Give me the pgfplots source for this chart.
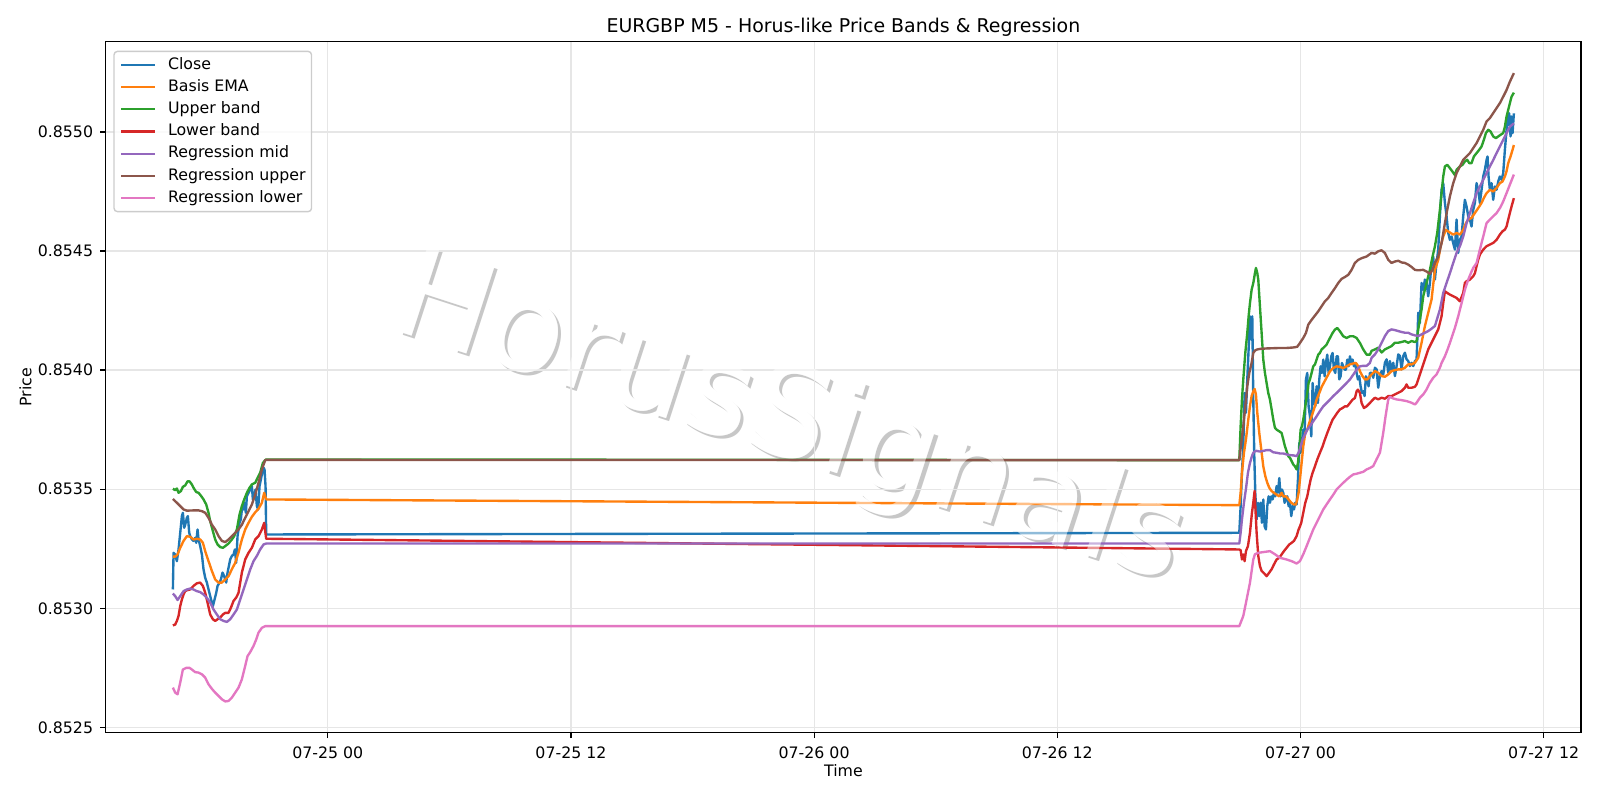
\documentclass[border=0pt]{standalone}
\usepackage{fontspec}
\setmainfont{DejaVu Sans}
\usepackage{pgfplots}
\pgfplotsset{compat=1.18}
\definecolor{c0}{HTML}{1F77B4}
\definecolor{c1}{HTML}{FF7F0E}
\definecolor{c2}{HTML}{2CA02C}
\definecolor{c3}{HTML}{D62728}
\definecolor{c4}{HTML}{9467BD}
\definecolor{c5}{HTML}{8C564B}
\definecolor{c6}{HTML}{E377C2}
\definecolor{gridc}{HTML}{E6E6E6}
\definecolor{legc}{HTML}{CCCCCC}
\begin{document}
\begin{tikzpicture}
\useasboundingbox (-76.2bp,-48.5bp) rectangle (1075.8bp,527.5bp);
\node[rotate=-18, anchor=base west, inner sep=0pt, font=\fontsize{91}{91}\selectfont, text=black, text opacity=0.22] at (205.8bp,289.0bp) {HorusSignals};
\node[rotate=-18, anchor=base west, inner sep=0pt, font=\fontsize{91}{91}\selectfont, text=white] at (203.5bp,291.2bp) {HorusSignals};
\begin{axis}[
 at={(0,0)}, anchor=south west, scale only axis,
 width=1062.1bp, height=497.5bp,
 xmin=-10.952, xmax=61.839, ymin=0.852478, ymax=0.855379,
 xtick={0,12,24,36,48,60},
 xticklabels={07-25 00,07-25 12,07-26 00,07-26 12,07-27 00,07-27 12},
 ytick={0.8525,0.853,0.8535,0.854,0.8545,0.855},
 yticklabels={0.8525,0.8530,0.8535,0.8540,0.8545,0.8550},
 scaled y ticks=false, scaled x ticks=false,
 tick align=outside, tick pos=left,
 major tick length=4bp,
 every tick/.style={black, line width=0.91bp},
 axis line style={black, line width=0.91bp},
 grid=major, major grid style={gridc, line width=0.91bp},
 tick label style={font=\fontsize{11.4}{13}\selectfont},
 xticklabel style={anchor=north, inner sep=0pt, yshift=-6.2bp},
 yticklabel style={anchor=east, inner sep=0pt, xshift=-5bp},
 every axis title shift=0pt,
 title={EURGBP M5 - Horus-like Price Bands \& Regression},
 title style={at={(axis description cs:0.5,1)}, anchor=base, yshift=6.3bp, inner sep=0pt, font=\fontsize{13.7}{16}\selectfont},
 xlabel={Time}, ylabel={Price},
 xlabel style={at={(axis description cs:0.5,0)}, anchor=base, yshift=-31.9bp, inner sep=0pt, font=\fontsize{11.4}{13}\selectfont},
 ylabel style={at={(axis description cs:-0.0544,0.5)}, anchor=center, inner sep=0pt, font=\fontsize{11.4}{13}\selectfont},
 legend cell align=left,
 legend image code/.code={\draw[#1, line width=1.71bp] (0bp,0bp) -- (24bp,0bp);},
 legend style={at={(axis description cs:0,1)}, anchor=north west, xshift=5.4bp, yshift=-6.5bp,
   draw=legc, line width=1bp, rounded corners=2.5bp, fill=white, fill opacity=0.8, text opacity=1,
   font=\fontsize{11.4}{13}\selectfont, inner xsep=4.3bp, inner ysep=4.2bp, row sep=5bp, column sep=8.9bp,
   nodes={inner sep=0pt, text height=8.5bp, text depth=2.5bp}},
 every axis plot/.append style={line width=1.71bp, line join=round},
]
\addplot[c0] coordinates {(-7.643,0.853079) (-7.610,0.853233) (-7.528,0.853226) (-7.446,0.853198) (-7.364,0.853247) (-7.281,0.853317) (-7.199,0.853387) (-7.150,0.853401) (-7.084,0.853338) (-7.035,0.853351) (-6.952,0.853380) (-6.903,0.853387) (-6.837,0.853317) (-6.788,0.853303) (-6.706,0.853289) (-6.624,0.853283) (-6.541,0.853296) (-6.492,0.853275) (-6.426,0.853331) (-6.377,0.853289) (-6.295,0.853261) (-6.212,0.853226) (-6.130,0.853163) (-6.048,0.853128) (-5.966,0.853108) (-5.884,0.853079) (-5.801,0.853051) (-5.719,0.853024) (-5.670,0.853009) (-5.587,0.853037) (-5.505,0.853065) (-5.439,0.853094) (-5.341,0.853108) (-5.275,0.853121) (-5.193,0.853150) (-5.111,0.853135) (-5.061,0.853121) (-5.012,0.853108) (-4.946,0.853150) (-4.864,0.853184) (-4.815,0.853205) (-4.732,0.853220) (-4.650,0.853226) (-4.584,0.853247) (-4.519,0.853191) (-4.453,0.853303) (-4.354,0.853359) (-4.288,0.853373) (-4.222,0.853429) (-4.157,0.853415) (-4.107,0.853443) (-4.042,0.853401) (-3.992,0.853471) (-3.910,0.853485) (-3.828,0.853499) (-3.746,0.853513) (-3.696,0.853457) (-3.631,0.853477) (-3.565,0.853499) (-3.499,0.853429) (-3.433,0.853415) (-3.368,0.853513) (-3.302,0.853541) (-3.236,0.853569) (-3.170,0.853590) (-3.121,0.853583) (-3.071,0.853513) (-3.038,0.853310)
(44.980,0.853317) (45.046,0.853429) (45.111,0.853569) (45.177,0.853680) (45.243,0.853904) (45.309,0.853821) (45.374,0.853961) (45.440,0.854087) (45.506,0.854226) (45.572,0.854128) (45.621,0.854226) (45.671,0.853876) (45.720,0.853639) (45.769,0.853485) (45.835,0.853373) (45.901,0.853443) (45.966,0.853387) (46.032,0.853443) (46.098,0.853359) (46.164,0.853457) (46.230,0.853344) (46.295,0.853331) (46.361,0.853429) (46.427,0.853470) (46.493,0.853443) (46.558,0.853470) (46.624,0.853457) (46.690,0.853485) (46.756,0.853470) (46.822,0.853513) (46.887,0.853485) (46.953,0.853547) (47.019,0.853470) (47.085,0.853499) (47.150,0.853485) (47.216,0.853443) (47.282,0.853457) (47.348,0.853470) (47.414,0.853429) (47.479,0.853443) (47.545,0.853387) (47.611,0.853429) (47.677,0.853415) (47.742,0.853443) (47.808,0.853436) (47.874,0.853540) (47.940,0.853695) (48.006,0.853653) (48.071,0.853702) (48.137,0.853750) (48.203,0.853736) (48.269,0.853961) (48.334,0.853988) (48.400,0.853848) (48.466,0.853806) (48.532,0.853722) (48.598,0.853946) (48.663,0.853876) (48.729,0.853848) (48.795,0.853932) (48.861,0.853862) (48.927,0.853961) (48.992,0.854016) (49.058,0.853988) (49.124,0.854044) (49.190,0.853974) (49.255,0.854030) (49.321,0.854065) (49.387,0.853988) (49.453,0.854016) (49.519,0.854058) (49.584,0.854072) (49.650,0.854002) (49.716,0.853988) (49.782,0.854058) (49.848,0.854058) (49.913,0.853961) (49.979,0.853974) (50.045,0.854030) (50.111,0.854016) (50.177,0.854002) (50.242,0.854002) (50.308,0.854044) (50.374,0.854016) (50.440,0.854058) (50.505,0.854030) (50.571,0.854044) (50.637,0.854016) (50.703,0.854030) (50.769,0.853988) (50.834,0.853961) (50.900,0.853974) (50.966,0.853932) (51.032,0.853904) (51.097,0.853911) (51.163,0.853891) (51.229,0.853974) (51.295,0.853961) (51.360,0.853932) (51.426,0.853988)
(51.508,0.853989) (51.590,0.853968) (51.673,0.854010) (51.755,0.854003) (51.837,0.853926) (51.919,0.853975) (52.002,0.853996) (52.084,0.853982) (52.166,0.854031) (52.248,0.854045) (52.331,0.853989) (52.413,0.854038) (52.495,0.853996) (52.577,0.854031) (52.659,0.853975) (52.742,0.854017) (52.824,0.854066) (52.906,0.854059) (52.988,0.854003) (53.071,0.854059) (53.153,0.854073) (53.235,0.854045) (53.317,0.854038) (53.399,0.854017) (53.482,0.854031) (53.564,0.854017) (53.646,0.854038) (53.728,0.854045) (53.778,0.854157) (53.811,0.854241)
(53.892,0.854198) (53.974,0.854366) (54.057,0.854337) (54.139,0.854380) (54.221,0.854366) (54.303,0.854310) (54.386,0.854366) (54.468,0.854450) (54.550,0.854477) (54.632,0.854380) (54.714,0.854450) (54.797,0.854506) (54.879,0.854646) (54.961,0.854757) (55.043,0.854785) (55.126,0.854702) (55.208,0.854646) (55.290,0.854576) (55.372,0.854547) (55.455,0.854561) (55.537,0.854533) (55.619,0.854506) (55.701,0.854632) (55.783,0.854492) (55.866,0.854547) (55.948,0.854561) (56.030,0.854646) (56.112,0.854715) (56.195,0.854687) (56.277,0.854646) (56.359,0.854632) (56.441,0.854603) (56.523,0.854673) (56.606,0.854702) (56.688,0.854785) (56.770,0.854757) (56.852,0.854702) (56.935,0.854757) (57.017,0.854813) (57.099,0.854841) (57.181,0.854882) (57.230,0.854897) (57.280,0.854813) (57.346,0.854757) (57.428,0.854785) (57.510,0.854715) (57.592,0.854771) (57.674,0.854757) (57.757,0.854792) (57.839,0.854813) (57.921,0.854799) (58.003,0.854827) (58.086,0.854925) (58.168,0.855009) (58.250,0.855065) (58.299,0.855078) (58.365,0.854981) (58.415,0.855065) (58.464,0.854995) (58.530,0.855078)};
\addlegendentry{Close}
\addplot[c1] coordinates {(-7.643,0.853217) (-7.528,0.853217) (-7.413,0.853226) (-7.281,0.853254) (-7.117,0.853283) (-6.952,0.853303) (-6.788,0.853300) (-6.624,0.853289) (-6.459,0.853292) (-6.295,0.853289) (-6.163,0.853275) (-6.048,0.853240) (-5.884,0.853198) (-5.719,0.853157) (-5.555,0.853121) (-5.390,0.853108) (-5.226,0.853108) (-5.061,0.853121) (-4.897,0.853135) (-4.732,0.853164) (-4.568,0.853191) (-4.404,0.853234) (-4.239,0.853289) (-4.075,0.853331) (-3.910,0.853359) (-3.746,0.853384) (-3.581,0.853403) (-3.417,0.853418) (-3.252,0.853443) (-3.137,0.853485) (-3.038,0.853457)
(44.980,0.853433) (45.046,0.853485) (45.111,0.853569) (45.210,0.853653) (45.309,0.853709) (45.424,0.853792) (45.506,0.853848) (45.588,0.853891) (45.671,0.853911) (45.736,0.853921) (45.802,0.853898) (45.868,0.853821) (45.966,0.853736) (46.065,0.853666) (46.164,0.853596) (46.263,0.853555) (46.361,0.853527) (46.460,0.853506) (46.575,0.853492) (46.690,0.853485) (46.822,0.853477) (46.953,0.853470) (47.068,0.853485) (47.150,0.853470) (47.282,0.853470) (47.414,0.853457) (47.545,0.853443) (47.677,0.853436) (47.775,0.853436) (47.841,0.853457) (47.907,0.853485) (47.973,0.853540) (48.055,0.853610) (48.137,0.853680) (48.236,0.853736) (48.334,0.853750) (48.433,0.853779) (48.548,0.853806) (48.663,0.853835) (48.795,0.853876) (48.927,0.853904) (49.058,0.853932) (49.190,0.853953) (49.321,0.853974) (49.453,0.853995) (49.617,0.854009) (49.782,0.854016) (49.946,0.854013) (50.111,0.854009) (50.275,0.854016) (50.440,0.854024) (50.604,0.854028) (50.736,0.854030) (50.851,0.854016) (50.933,0.853995) (51.064,0.853974) (51.179,0.853961) (51.295,0.853961) (51.426,0.853974) (51.508,0.853982) (51.673,0.853996) (51.837,0.853989) (52.002,0.853975) (52.166,0.853972) (52.331,0.853982) (52.495,0.853996) (52.659,0.854000) (52.824,0.854003) (52.988,0.854003) (53.153,0.854010) (53.317,0.854024) (53.482,0.854024) (53.646,0.854031) (53.811,0.854052) (53.975,0.854115) (54.140,0.854185) (54.304,0.854241) (54.468,0.854297) (54.632,0.854421) (54.797,0.854463) (54.912,0.854519) (55.043,0.854561) (55.175,0.854589) (55.290,0.854582) (55.405,0.854576) (55.537,0.854569) (55.701,0.854576) (55.866,0.854569) (56.030,0.854589) (56.162,0.854617) (56.277,0.854632) (56.441,0.854639) (56.606,0.854660) (56.770,0.854680) (56.935,0.854702) (57.050,0.854723) (57.181,0.854743) (57.346,0.854757) (57.510,0.854750) (57.674,0.854765) (57.839,0.854785) (57.971,0.854792) (58.086,0.854813) (58.168,0.854835) (58.250,0.854869) (58.365,0.854897) (58.464,0.854925) (58.530,0.854945)};
\addlegendentry{Basis EMA}
\addplot[c2] coordinates {(-7.643,0.853502) (-7.528,0.853496) (-7.446,0.853503) (-7.364,0.853485) (-7.248,0.853492) (-7.150,0.853510) (-7.035,0.853516) (-6.920,0.853533) (-6.821,0.853533) (-6.706,0.853520) (-6.624,0.853506) (-6.492,0.853488) (-6.377,0.853485) (-6.262,0.853473) (-6.130,0.853457) (-5.999,0.853436) (-5.884,0.853401) (-5.801,0.853366) (-5.670,0.853324) (-5.555,0.853289) (-5.439,0.853268) (-5.308,0.853257) (-5.176,0.853254) (-5.061,0.853261) (-4.897,0.853272) (-4.732,0.853289) (-4.617,0.853303) (-4.486,0.853331) (-4.354,0.853394) (-4.239,0.853429) (-4.124,0.853457) (-3.992,0.853485) (-3.861,0.853506) (-3.746,0.853520) (-3.581,0.853527) (-3.466,0.853547) (-3.335,0.853569) (-3.203,0.853610) (-3.088,0.853622) (-3.038,0.853625)
(44.980,0.853622) (45.046,0.853765) (45.111,0.853876) (45.177,0.853961) (45.276,0.854072) (45.374,0.854156) (45.440,0.854226) (45.506,0.854281) (45.588,0.854337) (45.671,0.854366) (45.753,0.854407) (45.802,0.854429) (45.868,0.854407) (45.917,0.854380) (45.999,0.854268) (46.082,0.854156) (46.164,0.854044) (46.246,0.853988) (46.328,0.853946) (46.410,0.853904) (46.493,0.853876) (46.575,0.853835) (46.657,0.853792) (46.739,0.853758) (46.822,0.853750) (46.953,0.853743) (47.068,0.853736) (47.150,0.853709) (47.233,0.853680) (47.315,0.853659) (47.397,0.853639) (47.479,0.853632) (47.562,0.853618) (47.644,0.853604) (47.726,0.853596) (47.808,0.853583) (47.874,0.853610) (47.940,0.853666) (48.006,0.853750) (48.071,0.853765) (48.137,0.853792) (48.236,0.853848) (48.334,0.853904) (48.400,0.853946) (48.466,0.853961) (48.548,0.853988) (48.630,0.854016) (48.713,0.854024) (48.795,0.854044) (48.877,0.854065) (48.959,0.854072) (49.042,0.854087) (49.124,0.854093) (49.206,0.854100) (49.288,0.854107) (49.370,0.854121) (49.453,0.854135) (49.584,0.854156) (49.699,0.854170) (49.815,0.854177) (49.946,0.854163) (50.111,0.854142) (50.275,0.854135) (50.440,0.854142) (50.604,0.854142) (50.769,0.854135) (50.933,0.854114) (51.097,0.854087) (51.262,0.854065) (51.426,0.854065) (51.508,0.854081) (51.673,0.854087) (51.837,0.854094) (52.002,0.854074) (52.166,0.854087) (52.331,0.854094) (52.495,0.854101) (52.659,0.854115) (52.824,0.854115) (52.988,0.854118) (53.153,0.854122) (53.317,0.854115) (53.482,0.854122) (53.646,0.854118) (53.728,0.854122) (53.811,0.854171) (53.893,0.854213) (53.974,0.854254) (54.057,0.854310) (54.221,0.854366) (54.386,0.854421) (54.517,0.854477) (54.632,0.854519) (54.747,0.854576) (54.879,0.854673) (54.961,0.854743) (55.043,0.854813) (55.126,0.854855) (55.241,0.854862) (55.372,0.854848) (55.504,0.854833) (55.619,0.854819) (55.701,0.854841) (55.783,0.854848) (55.866,0.854855) (55.997,0.854862) (56.112,0.854876) (56.227,0.854883) (56.326,0.854869) (56.441,0.854869) (56.556,0.854897) (56.688,0.854911) (56.819,0.854925) (56.935,0.854939) (57.050,0.854967) (57.148,0.854995) (57.263,0.855009) (57.379,0.855002) (57.510,0.854981) (57.642,0.854974) (57.757,0.854981) (57.872,0.854988) (58.003,0.854995) (58.086,0.855022) (58.168,0.855065) (58.250,0.855093) (58.333,0.855121) (58.415,0.855148) (58.530,0.855165)};
\addlegendentry{Upper band}
\addplot[c3] coordinates {(-7.643,0.852928) (-7.528,0.852932) (-7.446,0.852947) (-7.364,0.852968) (-7.281,0.853009) (-7.199,0.853037) (-7.117,0.853058) (-7.035,0.853072) (-6.952,0.853076) (-6.788,0.853079) (-6.624,0.853094) (-6.459,0.853105) (-6.295,0.853108) (-6.163,0.853094) (-6.048,0.853065) (-5.933,0.853024) (-5.801,0.852974) (-5.670,0.852954) (-5.555,0.852947) (-5.439,0.852954) (-5.308,0.852961) (-5.176,0.852974) (-5.061,0.852981) (-4.897,0.852981) (-4.782,0.853002) (-4.650,0.853031) (-4.519,0.853045) (-4.404,0.853065) (-4.239,0.853150) (-4.075,0.853205) (-3.910,0.853233) (-3.746,0.853254) (-3.581,0.853289) (-3.417,0.853303) (-3.252,0.853331) (-3.137,0.853359) (-3.088,0.853324) (-3.038,0.853292)
(44.980,0.853247) (45.046,0.853244) (45.111,0.853205) (45.177,0.853226) (45.243,0.853198) (45.309,0.853240) (45.407,0.853261) (45.506,0.853317) (45.605,0.853401) (45.671,0.853443) (45.736,0.853493) (45.786,0.853401) (45.835,0.853317) (45.917,0.853220) (45.999,0.853177) (46.082,0.853157) (46.164,0.853150) (46.246,0.853143) (46.328,0.853135) (46.460,0.853150) (46.575,0.853164) (46.690,0.853184) (46.822,0.853205) (46.953,0.853212) (47.068,0.853226) (47.183,0.853240) (47.315,0.853254) (47.447,0.853268) (47.562,0.853275) (47.677,0.853283) (47.808,0.853303) (47.907,0.853331) (47.973,0.853344) (48.038,0.853359) (48.104,0.853387) (48.170,0.853415) (48.236,0.853443) (48.334,0.853470) (48.400,0.853499) (48.499,0.853540) (48.598,0.853569) (48.713,0.853596) (48.828,0.853625) (48.959,0.853653) (49.091,0.853680) (49.206,0.853709) (49.321,0.853736) (49.453,0.853765) (49.584,0.853792) (49.699,0.853806) (49.815,0.853821) (49.946,0.853835) (50.078,0.853841) (50.193,0.853848) (50.308,0.853848) (50.440,0.853862) (50.571,0.853876) (50.686,0.853883) (50.769,0.853911) (50.834,0.853918) (50.933,0.853904) (51.015,0.853862) (51.130,0.853841) (51.262,0.853848) (51.426,0.853862) (51.508,0.853870) (51.673,0.853884) (51.837,0.853877) (52.002,0.853884) (52.166,0.853880) (52.331,0.853891) (52.495,0.853891) (52.659,0.853898) (52.824,0.853905) (52.988,0.853912) (53.153,0.853926) (53.235,0.853940) (53.317,0.853926) (53.482,0.853926) (53.646,0.853930) (53.728,0.853940) (53.811,0.853961) (53.975,0.854003) (54.140,0.854045) (54.304,0.854087) (54.468,0.854115) (54.633,0.854143) (54.797,0.854171) (54.961,0.854226) (55.043,0.854281) (55.126,0.854331) (55.241,0.854324) (55.372,0.854317) (55.537,0.854310) (55.701,0.854303) (55.866,0.854289) (56.030,0.854324) (56.112,0.854366) (56.195,0.854373) (56.359,0.854380) (56.523,0.854394) (56.606,0.854407) (56.688,0.854436) (56.770,0.854464) (56.852,0.854485) (57.017,0.854506) (57.181,0.854520) (57.346,0.854527) (57.510,0.854534) (57.674,0.854547) (57.839,0.854569) (57.971,0.854583) (58.086,0.854590) (58.168,0.854603) (58.250,0.854632) (58.333,0.854660) (58.415,0.854687) (58.530,0.854722)};
\addlegendentry{Lower band}
\addplot[c4] coordinates {(-7.643,0.853062) (-7.528,0.853051) (-7.413,0.853035) (-7.281,0.853051) (-7.117,0.853072) (-6.952,0.853079) (-6.788,0.853083) (-6.624,0.853079) (-6.459,0.853072) (-6.295,0.853068) (-6.130,0.853058) (-5.966,0.853044) (-5.801,0.853024) (-5.637,0.852995) (-5.472,0.852974) (-5.308,0.852954) (-5.143,0.852947) (-4.979,0.852943) (-4.815,0.852954) (-4.650,0.852974) (-4.486,0.852995) (-4.321,0.853037) (-4.157,0.853079) (-3.992,0.853121) (-3.828,0.853163) (-3.664,0.853198) (-3.499,0.853220) (-3.335,0.853247) (-3.170,0.853268) (-3.038,0.853272)
(44.980,0.853272) (45.046,0.853317) (45.111,0.853373) (45.210,0.853443) (45.309,0.853502) (45.407,0.853569) (45.506,0.853610) (45.605,0.853639) (45.671,0.853653) (45.753,0.853659) (45.835,0.853661) (45.999,0.853658) (46.164,0.853661) (46.328,0.853664) (46.493,0.853664) (46.657,0.853655) (46.822,0.853653) (46.986,0.853650) (47.150,0.853650) (47.315,0.853646) (47.479,0.853643) (47.644,0.853642) (47.808,0.853639) (47.907,0.853653) (48.006,0.853680) (48.104,0.853709) (48.219,0.853729) (48.334,0.853750) (48.466,0.853765) (48.630,0.853785) (48.795,0.853806) (48.959,0.853828) (49.124,0.853848) (49.288,0.853862) (49.453,0.853876) (49.617,0.853891) (49.782,0.853904) (49.946,0.853918) (50.111,0.853932) (50.275,0.853946) (50.440,0.853961) (50.604,0.853981) (50.769,0.854002) (50.933,0.854016) (51.097,0.854018) (51.262,0.854018) (51.426,0.854030) (51.508,0.854052) (51.673,0.854066) (51.837,0.854087) (52.002,0.854115) (52.166,0.854143) (52.331,0.854164) (52.495,0.854171) (52.659,0.854168) (52.824,0.854164) (52.988,0.854160) (53.153,0.854157) (53.317,0.854157) (53.482,0.854150) (53.646,0.854146) (53.811,0.854143) (53.975,0.854150) (54.140,0.854157) (54.304,0.854164) (54.468,0.854174) (54.633,0.854185) (54.879,0.854254) (55.043,0.854324) (55.208,0.854366) (55.372,0.854407) (55.537,0.854450) (55.701,0.854492) (55.866,0.854520) (56.030,0.854561) (56.195,0.854617) (56.359,0.854659) (56.523,0.854702) (56.688,0.854743) (56.852,0.854771) (57.017,0.854799) (57.181,0.854827) (57.346,0.854855) (57.510,0.854882) (57.674,0.854911) (57.839,0.854939) (58.003,0.854967) (58.168,0.854995) (58.333,0.855022) (58.530,0.855036)};
\addlegendentry{Regression mid}
\addplot[c5] coordinates {(-7.643,0.853459) (-7.446,0.853443) (-7.281,0.853429) (-7.117,0.853415) (-6.952,0.853410) (-6.624,0.853411) (-6.377,0.853411) (-6.212,0.853408) (-6.048,0.853401) (-5.884,0.853380) (-5.719,0.853351) (-5.555,0.853331) (-5.390,0.853303) (-5.226,0.853283) (-5.061,0.853278) (-4.897,0.853289) (-4.732,0.853303) (-4.568,0.853317) (-4.404,0.853331) (-4.239,0.853351) (-4.075,0.853380) (-3.910,0.853408) (-3.746,0.853436) (-3.581,0.853477) (-3.417,0.853527) (-3.252,0.853583) (-3.088,0.853622) (-3.038,0.853623)
(44.980,0.853622) (45.078,0.853695) (45.177,0.853765) (45.276,0.853848) (45.374,0.853932) (45.473,0.853988) (45.588,0.854030) (45.671,0.854072) (45.753,0.854082) (45.835,0.854086) (45.999,0.854089) (46.328,0.854091) (46.657,0.854092) (46.986,0.854093) (47.315,0.854093) (47.644,0.854095) (47.841,0.854098) (47.973,0.854114) (48.137,0.854135) (48.269,0.854156) (48.384,0.854191) (48.548,0.854211) (48.713,0.854229) (48.877,0.854247) (49.042,0.854268) (49.206,0.854289) (49.370,0.854303) (49.535,0.854324) (49.699,0.854344) (49.864,0.854366) (50.028,0.854383) (50.193,0.854391) (50.357,0.854400) (50.522,0.854421) (50.686,0.854450) (50.851,0.854463) (51.015,0.854470) (51.261,0.854477) (51.508,0.854492) (51.672,0.854489) (51.836,0.854499) (52.001,0.854503) (52.165,0.854492) (52.330,0.854463) (52.494,0.854450) (52.659,0.854456) (52.823,0.854459) (52.988,0.854452) (53.152,0.854450) (53.317,0.854443) (53.481,0.854433) (53.645,0.854421) (53.810,0.854419) (54.057,0.854421) (54.221,0.854414) (54.386,0.854404) (54.517,0.854421) (54.632,0.854450) (54.797,0.854477) (54.961,0.854533) (55.126,0.854617) (55.241,0.854673) (55.372,0.854729) (55.537,0.854785) (55.701,0.854827) (55.866,0.854855) (56.030,0.854883) (56.195,0.854897) (56.359,0.854911) (56.523,0.854932) (56.688,0.854953) (56.852,0.854981) (57.017,0.855009) (57.181,0.855044) (57.346,0.855058) (57.510,0.855079) (57.674,0.855100) (57.839,0.855121) (58.003,0.855148) (58.168,0.855176) (58.333,0.855211) (58.530,0.855247)};
\addlegendentry{Regression upper}
\addplot[c6] coordinates {(-7.643,0.852667) (-7.528,0.852646) (-7.413,0.852639) (-7.281,0.852688) (-7.150,0.852743) (-6.985,0.852750) (-6.821,0.852750) (-6.706,0.852743) (-6.541,0.852732) (-6.377,0.852730) (-6.212,0.852723) (-6.048,0.852709) (-5.884,0.852681) (-5.719,0.852662) (-5.555,0.852646) (-5.390,0.852632) (-5.226,0.852618) (-5.061,0.852609) (-4.897,0.852611) (-4.732,0.852625) (-4.568,0.852646) (-4.404,0.852667) (-4.239,0.852702) (-4.075,0.852758) (-3.960,0.852799) (-3.828,0.852816) (-3.664,0.852842) (-3.532,0.852869) (-3.417,0.852898) (-3.252,0.852918) (-3.088,0.852925) (-3.038,0.852925)
(44.980,0.852925) (45.177,0.852968) (45.342,0.853037) (45.506,0.853107) (45.671,0.853205) (45.753,0.853227) (45.917,0.853233) (46.164,0.853236) (46.493,0.853240) (46.739,0.853227) (46.986,0.853212) (47.315,0.853205) (47.562,0.853198) (47.808,0.853188) (47.973,0.853198) (48.137,0.853227) (48.302,0.853261) (48.466,0.853296) (48.630,0.853331) (48.795,0.853359) (48.959,0.853387) (49.124,0.853415) (49.288,0.853436) (49.453,0.853457) (49.617,0.853477) (49.782,0.853499) (49.946,0.853513) (50.111,0.853527) (50.275,0.853540) (50.440,0.853552) (50.604,0.853562) (50.769,0.853565) (50.933,0.853569) (51.097,0.853573) (51.262,0.853583) (51.426,0.853589) (51.590,0.853597) (51.755,0.853626) (51.919,0.853653) (52.084,0.853737) (52.199,0.853807) (52.331,0.853877) (52.413,0.853888) (52.577,0.853881) (52.742,0.853877) (52.988,0.853874) (53.235,0.853870) (53.482,0.853863) (53.646,0.853856) (53.728,0.853863) (53.893,0.853884) (54.057,0.853898) (54.222,0.853919) (54.386,0.853947) (54.551,0.853968) (54.715,0.853982) (54.879,0.854010) (54.961,0.854030) (55.126,0.854058) (55.290,0.854094) (55.455,0.854135) (55.619,0.854177) (55.783,0.854226) (55.948,0.854281) (56.112,0.854337) (56.277,0.854380) (56.441,0.854414) (56.523,0.854429) (56.688,0.854450) (56.852,0.854506) (57.017,0.854561) (57.181,0.854617) (57.346,0.854632) (57.510,0.854646) (57.674,0.854659) (57.839,0.854680) (58.003,0.854708) (58.168,0.854743) (58.333,0.854779) (58.530,0.854821)};
\addlegendentry{Regression lower}
\end{axis}
\node[rotate=-18, anchor=base west, inner sep=0pt, font=\fontsize{91}{91}\selectfont, text=white, text opacity=0.5] at (203.5bp,291.2bp) {HorusSignals};
\end{tikzpicture}
\end{document}
